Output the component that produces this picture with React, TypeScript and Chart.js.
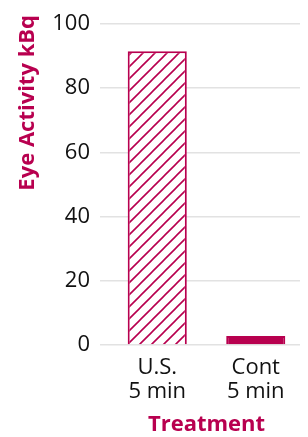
import React, { useEffect, useRef } from "react";
import { Chart, registerables } from "chart.js";

Chart.register(...registerables);

const categories: string[][] = [["U.S.", "5 min"], ["Cont", "5 min"]];
const values: number[] = [91.5, 2.8];
const yTicks: number[] = [0, 20, 40, 60, 80, 100];
const yTitle = "Eye Activity kBq";
const xTitle = "Treatment";

const CRIMSON = "#b8004f";
const FONT = "'Open Sans', sans-serif";

function makeHatch(): CanvasPattern | string {
  const size = 12;
  const c = document.createElement("canvas");
  c.width = size;
  c.height = size;
  const ctx = c.getContext("2d");
  if (!ctx) return CRIMSON;
  ctx.fillStyle = "#ffffff";
  ctx.fillRect(0, 0, size, size);
  ctx.strokeStyle = CRIMSON;
  ctx.lineWidth = 1.6;
  ctx.beginPath();
  ctx.moveTo(-size, size * 2);
  ctx.lineTo(size * 2, -size);
  ctx.moveTo(-size, size);
  ctx.lineTo(size, -size);
  ctx.moveTo(0, size * 2);
  ctx.lineTo(size * 2, 0);
  ctx.stroke();
  const p = ctx.createPattern(c, "repeat");
  return p || CRIMSON;
}

const yTitlePlugin = {
  id: "yTitleTop",
  afterDraw(chart: any) {
    const ctx = chart.ctx;
    ctx.save();
    ctx.translate(20, 7);
    ctx.rotate(-Math.PI / 2);
    ctx.font = `bold 22px ${FONT}`;
    ctx.fillStyle = CRIMSON;
    ctx.textAlign = "right";
    ctx.textBaseline = "middle";
    ctx.fillText(yTitle, 0, 0);
    ctx.restore();
  },
};

export default function App() {
  const ref = useRef<HTMLCanvasElement>(null);
  useEffect(() => {
    if (!ref.current) return;
    const hatch = makeHatch();
    const chart = new Chart(ref.current, {
      type: "bar",
      data: {
        labels: categories,
        datasets: [
          {
            data: values,
            backgroundColor: [hatch, CRIMSON],
            borderColor: CRIMSON,
            borderWidth: 2,
            barPercentage: 0.6,
            categoryPercentage: 1,
          },
        ],
      },
      plugins: [yTitlePlugin],
      options: {
        animation: false,
        responsive: true,
        maintainAspectRatio: false,
        layout: { padding: { top: 16, right: 3, bottom: 0, left: 0 } },
        plugins: { legend: { display: false }, tooltip: { enabled: false } },
        scales: {
          x: {
            grid: { display: false },
            border: { display: false },
            afterFit: (axis: any) => {
              axis.height = 92;
            },
            ticks: {
              color: "#111",
              font: { family: FONT, size: 22, lineHeight: 1.07 },
              padding: 3,
              maxRotation: 0,
            },
            title: {
              display: true,
              text: xTitle,
              color: CRIMSON,
              font: { family: FONT, size: 22, weight: "bold", lineHeight: 1.1 },
              padding: { top: 0, bottom: 0 },
            },
          },
          y: {
            min: 0,
            max: 100,
            afterBuildTicks: (axis: any) => {
              axis.ticks = yTicks.map((v) => ({ value: v }));
            },
            afterFit: (axis: any) => {
              axis.width = 100;
              axis.paddingTop = 0;
              axis.paddingBottom = 0;
            },
            grid: { color: "#e2e2e2", lineWidth: 1.5, tickLength: 8, drawTicks: true },
            border: { display: false },
            ticks: { color: "#111", font: { family: FONT, size: 22 }, padding: 10 },
          },
        },
      },
    });
    return () => chart.destroy();
  }, []);
  return (
    <div style={{ width: 300, height: 429, position: "relative" }}>
      <canvas ref={ref} />
    </div>
  );
}
